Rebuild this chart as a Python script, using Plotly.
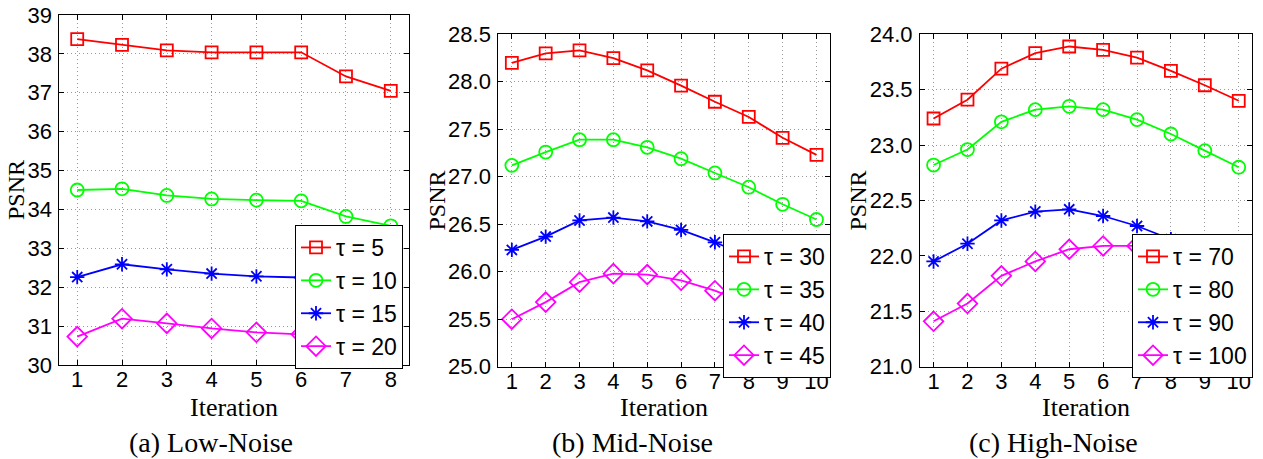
import plotly.graph_objects as go

# Iteration indices
iters_low = [1, 2, 3, 4, 5, 6, 7, 8]
iters_mid = [1, 2, 3, 4, 5, 6, 7, 8, 9, 10]
iters_high = [1, 2, 3, 4, 5, 6, 7, 8, 9, 10]

# PSNR per iteration, low noise
low_names = ["τ = 5", "τ = 10", "τ = 15", "τ = 20"]
low_tau5 = [38.38, 38.23, 38.09, 38.04, 38.04, 38.04, 37.42, 37.05]
low_tau10 = [34.50, 34.53, 34.36, 34.27, 34.24, 34.22, 33.82, 33.58]
low_tau15 = [32.26, 32.59, 32.46, 32.35, 32.28, 32.25, 31.95, 31.75]
low_tau20 = [30.73, 31.19, 31.07, 30.94, 30.84, 30.79, 30.55, 30.40]

# PSNR per iteration, mid noise
mid_names = ["τ = 30", "τ = 35", "τ = 40", "τ = 45"]
mid_tau30 = [28.20, 28.30, 28.33, 28.25, 28.12, 27.96, 27.79, 27.63, 27.41, 27.23]
mid_tau35 = [27.12, 27.26, 27.39, 27.39, 27.31, 27.19, 27.04, 26.89, 26.71, 26.55]
mid_tau40 = [26.23, 26.37, 26.54, 26.57, 26.53, 26.44, 26.31, 26.16, 25.99, 25.82]
mid_tau45 = [25.50, 25.68, 25.89, 25.98, 25.97, 25.91, 25.80, 25.66, 25.50, 25.34]

# PSNR per iteration, high noise
high_names = ["τ = 70", "τ = 80", "τ = 90", "τ = 100"]
high_tau70 = [23.24, 23.41, 23.69, 23.83, 23.89, 23.86, 23.79, 23.67, 23.54, 23.40]
high_tau80 = [22.82, 22.96, 23.21, 23.32, 23.35, 23.32, 23.23, 23.10, 22.95, 22.80]
high_tau90 = [21.95, 22.11, 22.32, 22.40, 22.42, 22.36, 22.27, 22.15, 22.00, 21.83]
high_tau100 = [21.41, 21.57, 21.82, 21.95, 22.06, 22.09, 22.09, 22.03, 21.93, 21.82]

captions = ["(a) Low-Noise", "(b) Mid-Noise", "(c) High-Noise"]

colors = ["#ff0000", "#00ff00", "#0000ff", "#ff00ff"]
symbols = ["square-open", "circle-open", "asterisk-open", "diamond-open"]
msizes = [12, 13, 12, 15]

W, H = 1263, 459
SANS = "Liberation Sans, Arial, sans-serif"
SERIF = "Liberation Serif, Times New Roman, serif"

panels = [
    dict(x=iters_low, ys=[low_tau5, low_tau10, low_tau15, low_tau20], names=low_names,
         px=(59.3, 408.7), py=(15, 365), yr=(30, 39), dt=1, fmt="d", xr=(0.6, 8.4),
         leg=(295, 225), ylab_x=16),
    dict(x=iters_mid, ys=[mid_tau30, mid_tau35, mid_tau40, mid_tau45], names=mid_names,
         px=(498.3, 830), py=(34.3, 366.7), yr=(25, 28.5), dt=0.5, fmt=".1f", xr=(0.6, 10.4),
         leg=(723, 234), ylab_x=437),
    dict(x=iters_high, ys=[high_tau70, high_tau80, high_tau90, high_tau100], names=high_names,
         px=(920, 1252.3), py=(34.3, 366.7), yr=(21, 24), dt=0.5, fmt=".1f", xr=(0.6, 10.4),
         leg=(1132, 234), ylab_x=858),
]

fig = go.Figure()
layout = dict(
    width=W, height=H,
    margin=dict(l=0, r=0, t=0, b=0, autoexpand=False),
    paper_bgcolor="white", plot_bgcolor="white",
    annotations=[],
)

for i, p in enumerate(panels):
    k = "" if i == 0 else str(i + 1)
    legname = "legend" + k
    for j in range(4):
        fig.add_trace(go.Scatter(
            x=p["x"], y=p["ys"][j], name=p["names"][j],
            mode="lines+markers",
            line=dict(color=colors[j], width=1.8),
            marker=dict(symbol=symbols[j], size=msizes[j], color=colors[j],
                        line=dict(color=colors[j], width=1.8)),
            xaxis="x" + k, yaxis="y" + k, legend=legname,
        ))
    x0, x1 = p["px"][0] / W, p["px"][1] / W
    y0, y1 = 1 - p["py"][1] / H, 1 - p["py"][0] / H
    axis_common = dict(
        showline=True, linecolor="black", linewidth=1, mirror="ticks",
        ticks="inside", ticklen=5, tickcolor="black", tickwidth=1,
        showgrid=True, gridcolor="#9a9a9a", griddash="1px,3px", gridwidth=1,
        zeroline=False, automargin=False,
        tickfont=dict(family=SANS, size=22, color="black"),
    )
    layout["xaxis" + k] = dict(
        axis_common, domain=[x0, x1], range=list(p["xr"]), dtick=1, tick0=1,
        anchor="y" + k, ticklabelstandoff=-5,
    )
    layout["yaxis" + k] = dict(
        axis_common, domain=[y0, y1], range=list(p["yr"]), dtick=p["dt"],
        tickformat=p["fmt"], anchor="x" + k, ticklabelstandoff=2,
    )
    layout[legname] = dict(
        x=p["leg"][0] / W, y=1 - p["leg"][1] / H, xanchor="left", yanchor="top",
        xref="paper", yref="paper",
        bgcolor="white", bordercolor="black", borderwidth=1,
        font=dict(family=SANS, size=23, color="black"),
        itemwidth=30,
    )
    cx = (p["px"][0] + p["px"][1]) / 2 / W
    cy = (p["py"][0] + p["py"][1]) / 2
    layout["annotations"] += [
        dict(text="Iteration", x=cx, y=1 - 407 / H, xref="paper", yref="paper",
             showarrow=False, xanchor="center", yanchor="middle",
             font=dict(family=SERIF, size=26, color="black")),
        dict(text="PSNR", x=p["ylab_x"] / W, y=1 - cy / H, xref="paper", yref="paper",
             showarrow=False, textangle=-90, xanchor="center", yanchor="middle",
             font=dict(family=SERIF, size=24, color="black")),
    ]

cap_x = [211, 632, 1053]
for cx, text in zip(cap_x, captions):
    layout["annotations"].append(
        dict(text=text, x=cx / W, y=1 - 442 / H, xref="paper", yref="paper",
             showarrow=False, xanchor="center", yanchor="middle",
             font=dict(family=SERIF, size=28, color="black")))

fig.update_layout(**layout)
fig.write_html("out.html")
